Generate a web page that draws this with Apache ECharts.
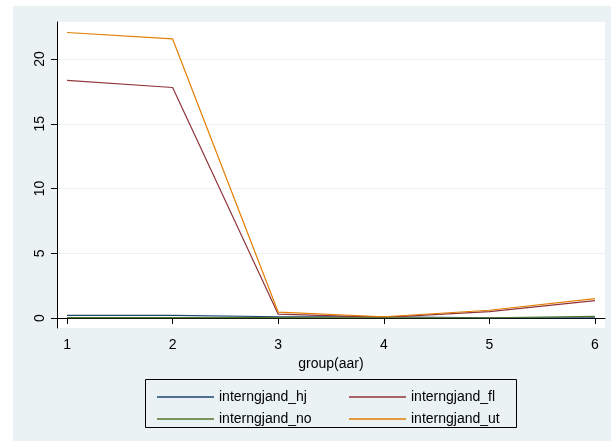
<!DOCTYPE html>
<html>
<head>
<meta charset="utf-8">
<script src="https://cdn.jsdelivr.net/npm/echarts@6/dist/echarts.min.js"></script>
<style>
html,body{margin:0;padding:0;background:#fff;}
#chart{width:611px;height:441px;}
</style>
</head>
<body>
<div id="chart"></div>
<script>
const groups = [1, 2, 3, 4, 5, 6];
const xTicks = [1, 2, 3, 4, 5, 6];
const yTicks = [0, 5, 10, 15, 20];
const hj = [0.2, 0.2, 0.1, 0.1, 0.02, 0.02];
const fl = [18.35, 17.8, 0.3, 0.05, 0.5, 1.35];
const no = [0.03, 0.03, 0.03, 0.02, 0.02, 0.12];
const ut = [22.05, 21.55, 0.45, 0.1, 0.6, 1.5];
const names = ['interngjand_hj', 'interngjand_fl', 'interngjand_no', 'interngjand_ut'];
const colors = ['#1a476f', '#90353b', '#55752f', '#e37e00'];

const pairs = arr => groups.map((g, i) => [g, arr[i]]);
const font = 'Liberation Sans, Arial, sans-serif';

const chart = echarts.init(document.getElementById('chart'), null, {renderer: 'canvas'});
const seriesData = [hj, fl, no, ut];
const legendCommon = {
  orient: 'vertical', top: 385, itemWidth: 57, itemHeight: 1.5, itemGap: 8, icon: 'rect',
  textStyle: {fontFamily: font, fontSize: 14, color: '#000', lineHeight: 14}
};
chart.setOption({
  animation: false,
  backgroundColor: '#ffffff',
  graphic: [
    {type: 'rect', z: -10, shape: {x: 13, y: 6, width: 598, height: 435}, style: {fill: '#eaf2f3'}},
    {type: 'rect', z: 10, shape: {x: 145.5, y: 379.5, width: 371, height: 48}, style: {fill: 'rgba(0,0,0,0)', stroke: '#000', lineWidth: 1}}
  ],
  grid: {left: 57, top: 22, right: 6, bottom: 113, show: true, backgroundColor: '#ffffff', borderWidth: 0},
  xAxis: {
    type: 'value', min: 0.905, max: 6.095,
    name: 'group(aar)', nameLocation: 'middle', nameGap: 27,
    nameTextStyle: {fontFamily: font, fontSize: 14, color: '#000'},
    axisLine: {show: true, lineStyle: {color: '#000', width: 1}},
    axisTick: {show: true, length: 6, customValues: xTicks, lineStyle: {color: '#000'}},
    axisLabel: {customValues: xTicks, margin: 10, fontFamily: font, fontSize: 14, color: '#000'},
    splitLine: {show: false}
  },
  yAxis: {
    type: 'value', min: -0.77, max: 22.86,
    axisLine: {show: true, lineStyle: {color: '#000', width: 1}},
    axisTick: {show: true, length: 6, customValues: yTicks, lineStyle: {color: '#000'}},
    axisLabel: {customValues: yTicks, rotate: 90, margin: 10, fontFamily: font, fontSize: 14, color: '#000'},
    splitLine: {show: true, lineStyle: {color: '#eaf2f3', width: 1}}
  },
  legend: [
    Object.assign({data: [names[0], names[2]], left: 152}, legendCommon),
    Object.assign({data: [names[1], names[3]], left: 344}, legendCommon)
  ],
  series: seriesData.map((arr, i) => ({
    name: names[i], type: 'line', data: pairs(arr), symbol: 'none', showSymbol: false,
    lineStyle: {color: colors[i], width: 1.2}, itemStyle: {color: colors[i]}
  }))
});
</script>
</body>
</html>
